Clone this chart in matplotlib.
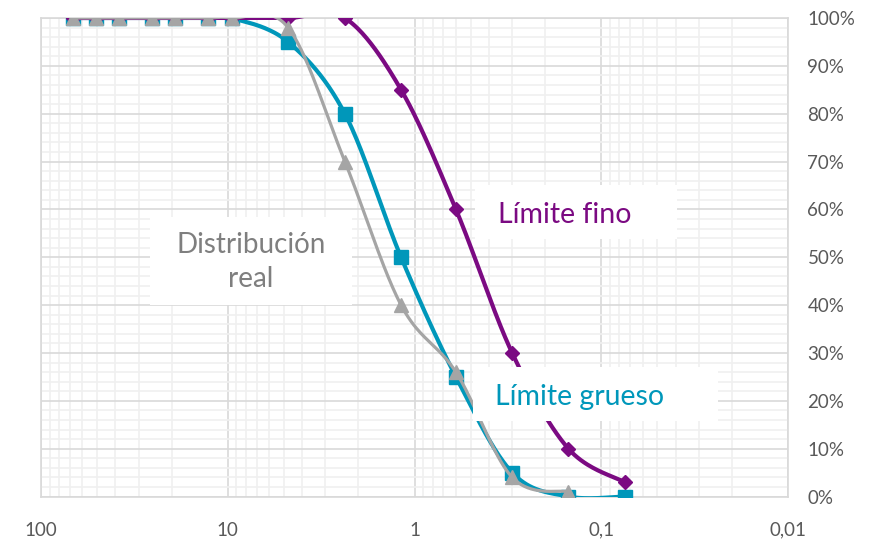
import matplotlib
matplotlib.use('Agg')
import matplotlib.pyplot as plt
import numpy as np
from matplotlib.patches import Rectangle
from matplotlib.ticker import FixedLocator, FuncFormatter, NullFormatter

plt.rcParams['font.family'] = ['Lato', 'DejaVu Sans']

# tamices (mm) y % que pasa
tamices = [67, 50.8, 38.1, 25.4, 19.05, 12.7, 9.525, 4.75, 2.36, 1.18, 0.6, 0.3, 0.15, 0.075]
limite_fino = [100, 100, 100, 100, 100, 100, 100, 100, 100, 85, 60, 30, 10, 3]
limite_grueso = [100, 100, 100, 100, 100, 100, 100, 95, 80, 50, 25, 5, 0, 0]
real = [100, 100, 100, 100, 100, 100, 100, 98, 70, 40, 26, 4, 1]

x_ticks = [100, 10, 1, 0.1, 0.01]
x_labels = ['100', '10', '1', '0,1', '0,01']
y_ticks = [0, 10, 20, 30, 40, 50, 60, 70, 80, 90, 100]

c_fino = '#7B0A82'
c_grueso = '#0097BA'
c_real = '#A5A5A5'


def suave(x, y, n=40):
    # curva suavizada tipo Excel (Catmull-Rom -> Bezier) en escala log
    u = np.log10(np.array(x, dtype=float))
    v = np.array(y, dtype=float)
    P = np.column_stack([u, v])
    Pe = np.vstack([P[0], P, P[-1]])
    out = []
    t = np.linspace(0, 1, n)[:, None]
    for i in range(len(P) - 1):
        p0, p1, p2, p3 = Pe[i], Pe[i + 1], Pe[i + 2], Pe[i + 3]
        b1 = p1 + (p2 - p0) / 6
        b2 = p2 - (p3 - p1) / 6
        seg = ((1 - t) ** 3) * p1 + 3 * ((1 - t) ** 2) * t * b1 + 3 * (1 - t) * t ** 2 * b2 + t ** 3 * p2
        out.append(seg)
    c = np.vstack(out)
    return 10 ** c[:, 0], c[:, 1]


W, H = 891, 539
fig = plt.figure(figsize=(W / 100, H / 100), dpi=100)
L, R, T, B = 41, 788, 18, 496.5
ax = fig.add_axes([L / W, 1 - B / H, (R - L) / W, (B - T) / H])


def fx(px):
    return (px - L) / (R - L)


def fy(py):
    return (B - py) / (B - T)


xs, ys = suave(tamices, limite_grueso)
ax.plot(xs, ys, color=c_grueso, lw=3, zorder=3, solid_capstyle='round')
ax.plot(tamices, limite_grueso, 's', color=c_grueso, ms=10.5, zorder=3)

xs, ys = suave(tamices, limite_fino)
ax.plot(xs, ys, color=c_fino, lw=3, zorder=4, solid_capstyle='round')
ax.plot(tamices, limite_fino, 'D', color=c_fino, ms=7.5, zorder=4)

xs, ys = suave(tamices[:len(real)], real)
ax.plot(xs, ys, color=c_real, lw=2.3, zorder=5, solid_capstyle='round')
ax.plot(tamices[:len(real)], real, '^', color=c_real, ms=10, zorder=5)

ax.set_xscale('log')
ax.set_xlim(100, 0.01)
ax.set_ylim(0, 100)

ax.xaxis.set_major_locator(FixedLocator(x_ticks))
ax.xaxis.set_major_formatter(FuncFormatter(lambda v, p: x_labels[x_ticks.index(v)] if v in x_ticks else ''))
minx = [m * 10.0 ** e for e in range(-2, 2) for m in range(2, 10)]
ax.xaxis.set_minor_locator(FixedLocator(minx))
ax.xaxis.set_minor_formatter(NullFormatter())

ax.yaxis.tick_right()
ax.yaxis.set_major_locator(FixedLocator(y_ticks))
ax.yaxis.set_major_formatter(FuncFormatter(lambda v, p: '%d%%' % v))
ax.yaxis.set_minor_locator(FixedLocator(np.arange(0, 101, 2)))

ax.grid(which='major', color='#D9D9D9', lw=1.2, zorder=0)
ax.grid(which='minor', color='#F0F0F0', lw=1.2, zorder=0)
ax.set_axisbelow(True)
ax.tick_params(which='both', length=0, colors='#595959', labelsize=13.5)
ax.tick_params(axis='x', pad=18)
ax.tick_params(axis='y', pad=14)
for s in ax.spines.values():
    s.set_color('#D9D9D9')
    s.set_linewidth(1.2)

# cajas de texto (pixeles)
cajas = [(150, 217, 352, 305), (475, 185, 677, 239), (473, 367, 718, 421)]
for x0, y0, x1, y1 in cajas:
    ax.add_patch(Rectangle((fx(x0), fy(y1)), fx(x1) - fx(x0), fy(y0) - fy(y1),
                           transform=ax.transAxes, fc='white', ec='none', zorder=6, clip_on=False))

ax.text(fx(251), fy(262), 'Distribución\nreal', transform=ax.transAxes, color='#7F7F7F', fontsize=20,
        ha='center', va='center', linespacing=1.4, zorder=7)
ax.text(fx(565), fy(215), 'Límite fino', transform=ax.transAxes, color=c_fino, fontsize=20.5,
        ha='center', va='center', zorder=7)
ax.text(fx(580), fy(397), 'Límite grueso', transform=ax.transAxes, color=c_grueso, fontsize=20.5,
        ha='center', va='center', zorder=7)

fig.savefig('out.png', dpi=100)
